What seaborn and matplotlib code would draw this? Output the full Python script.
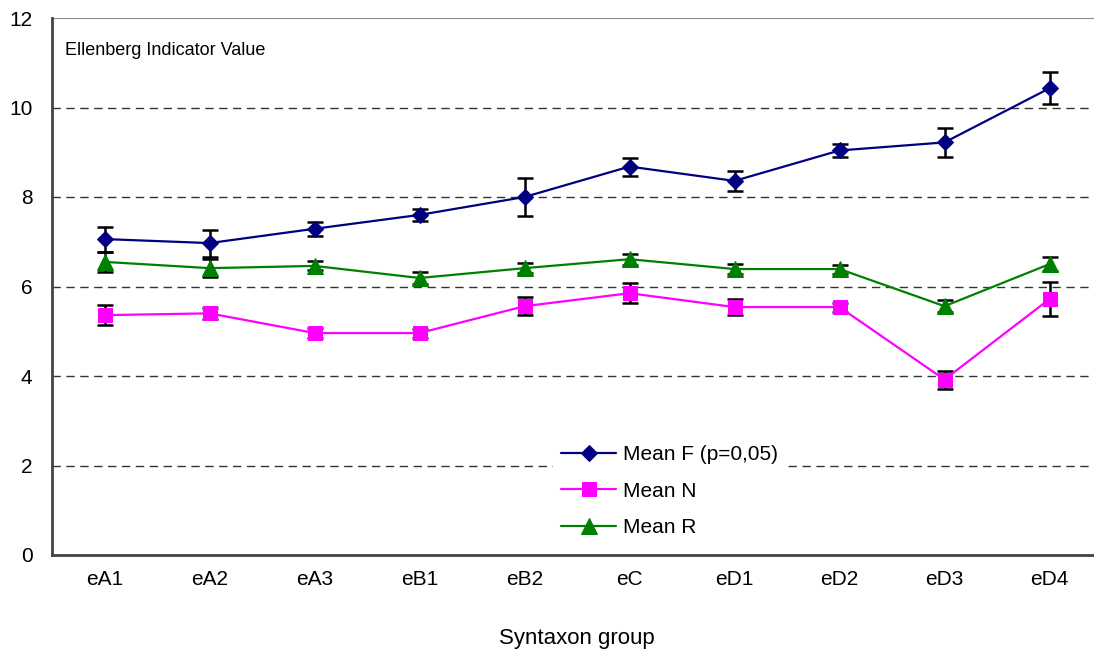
import numpy as np
import pandas as pd
import matplotlib
matplotlib.use("Agg")
import matplotlib.pyplot as plt
import seaborn as sns

sns.set_theme(style="white")
plt.rcParams['font.family'] = ['Liberation Sans', 'DejaVu Sans']
plt.rcParams['text.color'] = 'black'
plt.rcParams['axes.labelcolor'] = 'black'
plt.rcParams['xtick.color'] = 'black'
plt.rcParams['ytick.color'] = 'black'

# Valores
groups = ['eA1', 'eA2', 'eA3', 'eB1', 'eB2', 'eC', 'eD1', 'eD2', 'eD3', 'eD4']
mean_f = [7.06, 6.97, 7.29, 7.60, 8.00, 8.68, 8.36, 9.04, 9.22, 10.43]
err_f = [0.28, 0.30, 0.16, 0.14, 0.43, 0.20, 0.22, 0.15, 0.32, 0.36]
mean_n = [5.36, 5.40, 4.96, 4.96, 5.56, 5.85, 5.54, 5.54, 3.92, 5.72]
err_n = [0.22, 0.12, 0.11, 0.10, 0.20, 0.22, 0.18, 0.10, 0.20, 0.38]
mean_r = [6.55, 6.41, 6.46, 6.19, 6.41, 6.61, 6.39, 6.39, 5.56, 6.50]
err_r = [0.22, 0.20, 0.10, 0.14, 0.11, 0.12, 0.11, 0.10, 0.13, 0.15]

series_names = ['Mean F (p=0,05)', 'Mean N', 'Mean R']
colors = ['#000080', '#FF00FF', '#008000']
markers = ['D', 's', '^']
msizes = [8.5, 10, 11]

pos = np.arange(len(groups))
df = pd.DataFrame({
    'pos': np.tile(pos, 3),
    'value': mean_f + mean_n + mean_r,
    'err': err_f + err_n + err_r,
    'serie': np.repeat(series_names, len(groups)),
})

fig = plt.figure(figsize=(10.94, 6.57), dpi=100)
ax = fig.add_axes([52 / 1094, (657 - 555) / 657, 1050 / 1094, 537 / 657])

# líneas de cuadrícula
for yv in [2, 4, 6, 8, 10]:
    ax.axhline(yv, color='#333333', lw=1, ls=(0, (6, 4)), zorder=0)
ax.axhline(12, color='#888888', lw=1.5, zorder=0)

# barras de error
for name in series_names:
    sub = df[df['serie'] == name]
    ax.errorbar(sub['pos'], sub['value'], yerr=sub['err'], fmt='none',
                ecolor='black', elinewidth=1.8, capsize=6, capthick=1.8, zorder=2)

for name, c, m, ms in zip(series_names, colors, markers, msizes):
    sub = df[df['serie'] == name]
    sns.lineplot(data=sub, x='pos', y='value', ax=ax, color=c, marker=m,
                 markersize=ms, markeredgecolor=c, linewidth=1.6, label=name,
                 zorder=3)

ax.set_xlim(-0.5, 9.5)
ax.set_ylim(0, 12)
ax.set_yticks([0, 2, 4, 6, 8, 10, 12])
ax.set_xticks(pos)
ax.set_xticklabels(groups)
ax.set_xticks(np.arange(-0.5, 10, 1), minor=True)
ax.tick_params(axis='x', which='major', length=0, pad=11, labelsize=15)
ax.tick_params(axis='x', which='minor', length=6, width=1, color='#444444', direction='out')
ax.tick_params(axis='y', length=8, width=1, color='#444444', direction='out',
               labelsize=15, pad=6)

for side in ['top', 'right']:
    ax.spines[side].set_visible(False)
for side in ['left', 'bottom']:
    ax.spines[side].set_color('#444444')
    ax.spines[side].set_linewidth(2)

ax.set_xlabel('Syntaxon group', fontsize=16, labelpad=28)
ax.set_ylabel('')
ax.text(0.012, 0.955, 'Ellenberg Indicator Value', transform=ax.transAxes,
        fontsize=13, va='top', ha='left')

leg = ax.legend(loc='upper left', bbox_to_anchor=(0.467, 0.24), frameon=True,
                fontsize=15, labelspacing=0.85, handlelength=2.65,
                handletextpad=0.3, borderpad=0.4, fancybox=False)
leg.get_frame().set_edgecolor('white')
leg.get_frame().set_facecolor('white')
leg.get_frame().set_alpha(1)

fig.savefig('out.png', dpi=100)
